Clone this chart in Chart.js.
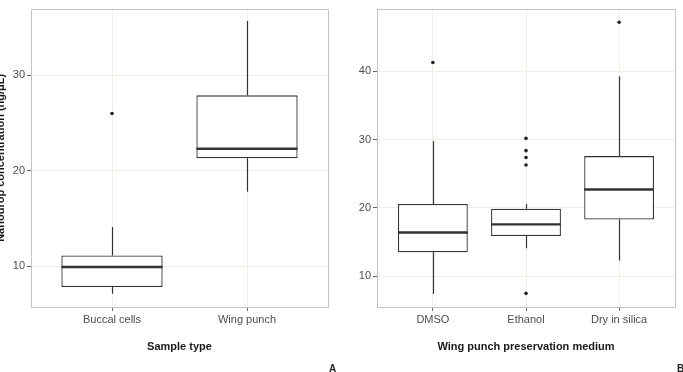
<!DOCTYPE html>
<html>
<head>
<meta charset="utf-8">
<script src="https://cdn.jsdelivr.net/npm/chart.js@4.4.0/dist/chart.umd.min.js"></script>
<style>
  html, body { margin: 0; padding: 0; background: #fff; overflow: hidden; }
  .wrap { position: relative; width: 683px; height: 372px; overflow: hidden; }
  #leftChart { position: absolute; left: -6px; top: 0; }
  #rightChart { position: absolute; left: 340px; top: 0; }
  .tag { position: absolute; top: 364px; font: bold 10px "Liberation Sans", Arial, sans-serif; color: #222; line-height: 1; }
</style>
</head>
<body>
<div class="wrap">
  <canvas id="leftChart" width="346" height="372"></canvas>
  <canvas id="rightChart" width="343" height="372"></canvas>
  <span class="tag" style="left:329px">A</span>
  <span class="tag" style="left:677px">B</span>
</div>
<script>
// panel A: sample type
const sampleTypes = ['Buccal cells', 'Wing punch'];
const sampleLow = [7.1, 17.8];
const sampleQ1 = [7.8, 21.3];
const sampleMedian = [9.9, 22.3];
const sampleQ3 = [11.1, 27.9];
const sampleHigh = [14.1, 35.7];
const sampleOutliers = [[26.0], []];

// panel B: preservation medium
const media = ['DMSO', 'Ethanol', 'Dry in silica'];
const mediaLow = [7.4, 14.1, 12.3];
const mediaQ1 = [13.5, 15.9, 18.3];
const mediaMedian = [16.4, 17.6, 22.7];
const mediaQ3 = [20.6, 19.9, 27.6];
const mediaHigh = [29.8, 20.6, 39.3];
const mediaOutliers = [[41.3], [30.2, 28.4, 27.4, 26.3, 7.5], [47.2]];

const FONT = '"Liberation Sans", Arial, sans-serif';
const INK = '#333333';

// whiskers + medians, placed with the chart's own scales
const boxParts = {
  id: 'boxParts',
  beforeDatasetsDraw(chart, args, opts) {
    const { ctx, scales: { x, y } } = chart;
    ctx.save();
    ctx.strokeStyle = INK;
    ctx.lineWidth = 1.2;
    opts.low.forEach((lo, i) => {
      const px = Math.round(x.getPixelForValue(i + 1)) + 0.5;
      ctx.beginPath();
      ctx.moveTo(px, y.getPixelForValue(lo));
      ctx.lineTo(px, y.getPixelForValue(opts.q1[i]));
      ctx.moveTo(px, y.getPixelForValue(opts.q3[i]));
      ctx.lineTo(px, y.getPixelForValue(opts.high[i]));
      ctx.stroke();
    });
    ctx.restore();
  },
  afterDatasetsDraw(chart, args, opts) {
    const { ctx, chartArea, scales: { x, y } } = chart;
    const bars = chart.getDatasetMeta(0).data;
    ctx.save();
    ctx.strokeStyle = INK;
    ctx.lineWidth = 2.4;
    opts.median.forEach((m, i) => {
      const cx = x.getPixelForValue(i + 1);
      const half = bars[i].width / 2;
      const py = y.getPixelForValue(m);
      ctx.beginPath();
      ctx.moveTo(cx - half, py);
      ctx.lineTo(cx + half, py);
      ctx.stroke();
    });
    // panel frame
    ctx.strokeStyle = '#c4c4c4';
    ctx.lineWidth = 1;
    ctx.strokeRect(Math.round(chartArea.left) + 0.5, Math.round(chartArea.top) + 0.5,
      Math.round(chartArea.right - chartArea.left), Math.round(chartArea.bottom - chartArea.top));
    ctx.restore();
  }
};

function makeBoxChart(id, cats, low, q1, med, q3, high, outliers, cfg) {
  const boxData = cats.map((c, i) => ({ x: i + 1, y: [q1[i], q3[i]] }));
  const pts = [];
  outliers.forEach((vals, i) => vals.forEach(v => pts.push({ x: i + 1, y: v })));

  return new Chart(document.getElementById(id), {
    type: 'bar',
    data: {
      datasets: [{
        type: 'bar',
        data: boxData,
        backgroundColor: '#ffffff',
        borderColor: INK,
        borderWidth: 1.3,
        borderSkipped: false,
        categoryPercentage: 1,
        barPercentage: 0.75,
        grouped: false
      }, {
        type: 'scatter',
        data: pts,
        pointRadius: 1.8,
        pointBackgroundColor: '#222',
        pointBorderWidth: 0
      }]
    },
    options: {
      responsive: false,
      animation: false,
      events: [],
      layout: { padding: cfg.padding },
      plugins: {
        legend: { display: false },
        tooltip: { enabled: false },
        boxParts: { low, q1, median: med, q3, high }
      },
      scales: {
        x: {
          type: 'linear',
          offset: false,
          min: 0.4,
          max: cats.length + 0.6,
          afterBuildTicks: s => { s.ticks = cats.map((c, i) => ({ value: i + 1 })); },
          afterFit: s => { s.height = cfg.xHeight; },
          ticks: {
            callback: v => cats[v - 1],
            color: '#4d4d4d',
            font: { family: FONT, size: 11 },
            padding: 2,
            maxRotation: 0
          },
          grid: { offset: false, color: '#f0f0e6', tickColor: '#666', tickLength: 4 },
          border: { display: false },
          title: {
            display: true,
            text: cfg.xTitle,
            color: '#1a1a1a',
            font: { family: FONT, size: 11, weight: 'bold' },
            padding: 0
          }
        },
        y: {
          min: cfg.yMin,
          max: cfg.yMax,
          afterFit: s => { s.width = cfg.yWidth; },
          ticks: {
            stepSize: 10,
            includeBounds: false,
            color: '#4d4d4d',
            font: { family: FONT, size: 11 },
            padding: 2
          },
          grid: { color: '#f0f0e6', tickColor: '#666', tickLength: 4 },
          border: { display: false },
          title: {
            display: !!cfg.yTitle,
            text: cfg.yTitle,
            color: '#1a1a1a',
            font: { family: FONT, size: 11, weight: 'bold' },
            padding: 0
          }
        }
      }
    },
    plugins: [boxParts]
  });
}

makeBoxChart('leftChart', sampleTypes, sampleLow, sampleQ1, sampleMedian, sampleQ3, sampleHigh, sampleOutliers, {
  padding: { top: 8, right: 12, bottom: 18, left: 0 },
  xHeight: 47,
  yWidth: 37,
  yMin: 5.7,
  yMax: 37,
  xTitle: 'Sample type',
  yTitle: 'Nanodrop concentration (ng/\u03bcL)'
});

makeBoxChart('rightChart', media, mediaLow, mediaQ1, mediaMedian, mediaQ3, mediaHigh, mediaOutliers, {
  padding: { top: 7, right: 8, bottom: 18, left: 0 },
  xHeight: 47,
  yWidth: 37,
  yMin: 5.5,
  yMax: 49.2,
  xTitle: 'Wing punch preservation medium',
  yTitle: ''
});
</script>
</body>
</html>
